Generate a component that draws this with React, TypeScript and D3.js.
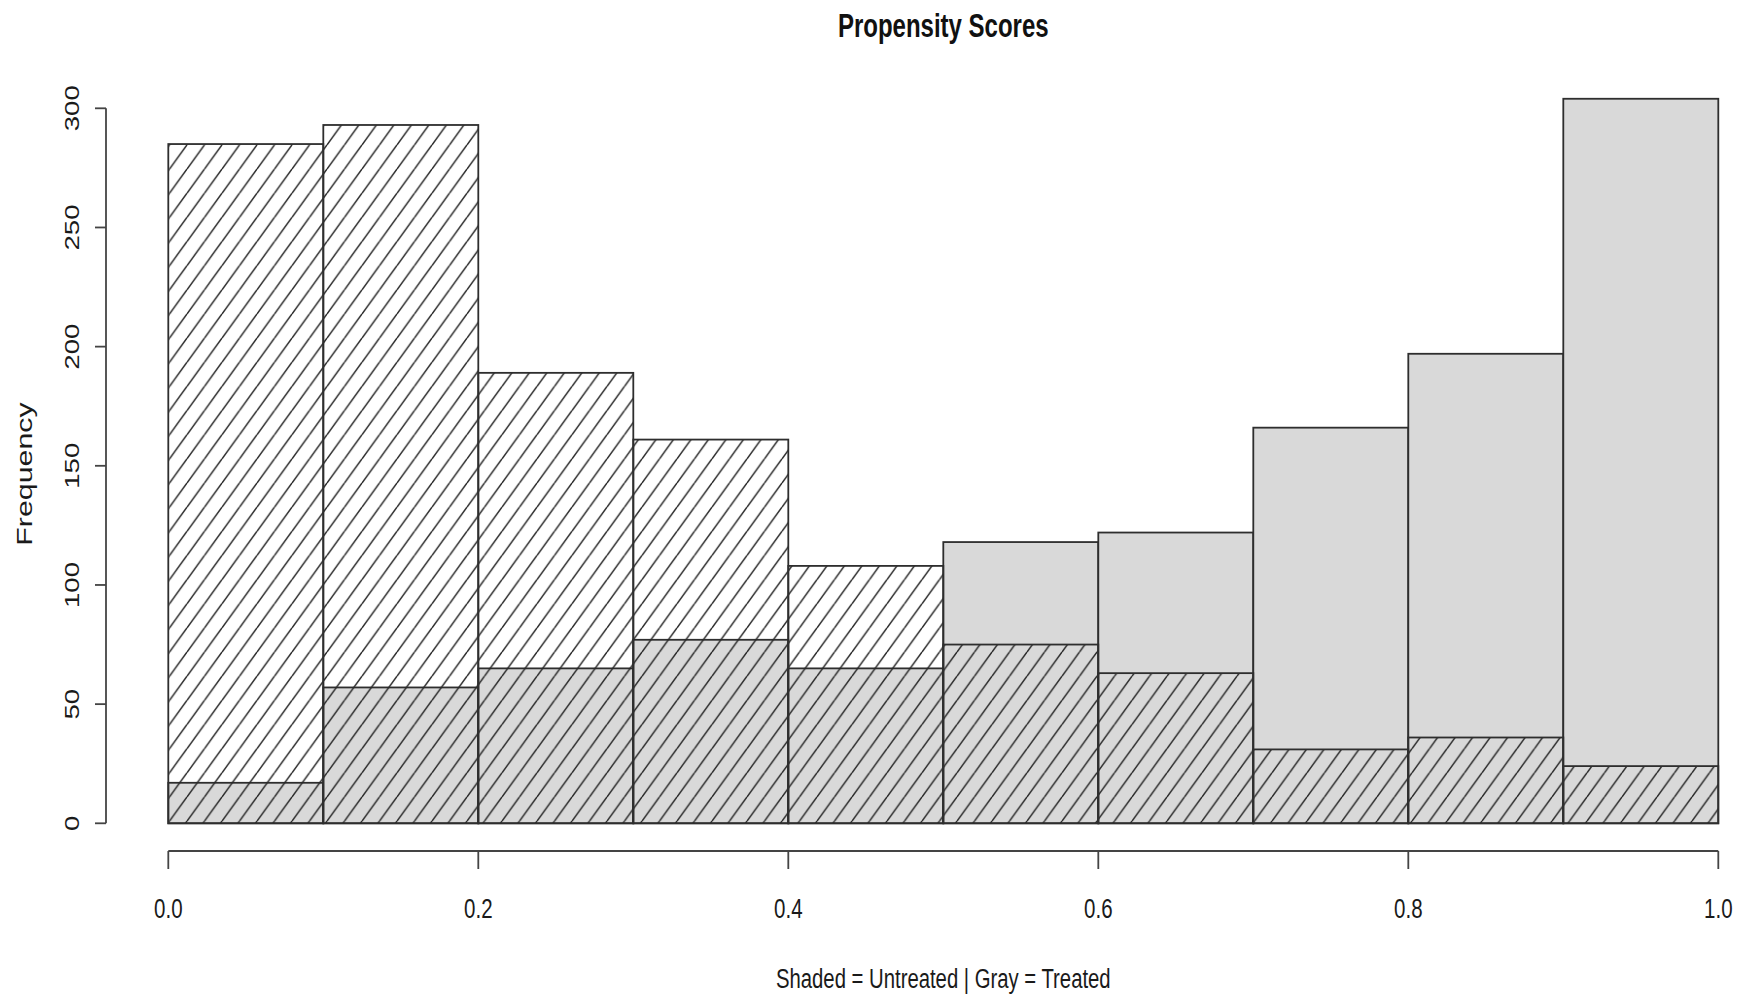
import { useEffect, useRef } from "react"
import * as d3 from "d3"

// bins of width 0.1 from 0.0 to 1.0
const binStarts = [0.0, 0.1, 0.2, 0.3, 0.4, 0.5, 0.6, 0.7, 0.8, 0.9]
const untreated = [285, 293, 189, 161, 108, 75, 63, 31, 36, 24]
const treated = [17, 57, 65, 77, 65, 118, 122, 166, 197, 304]
const yTicks = [0, 50, 100, 150, 200, 250, 300]
const xTicks = [0.0, 0.2, 0.4, 0.6, 0.8, 1.0]

const W = 1752
const H = 998
const STRETCH = 1.38 // picture is stretched vertically
const FONT = "'Liberation Sans', Arial, Helvetica, sans-serif"

export default function App() {
  const svgRef = useRef<SVGSVGElement>(null)

  useEffect(() => {
    if (!svgRef.current) return
    document.body.style.margin = "0"
    const svg = d3.select(svgRef.current)
    svg.selectAll("*").remove()

    const x = d3.scaleLinear().domain([0, 1]).range([168.3, 1718.3])
    const y = d3.scaleLinear().domain([0, 300]).range([823.3, 108.3])
    const bw = x(0.1) - x(0)

    // hatch pattern, 45 degree lines stretched vertically
    const pw = 17.5
    const ph = pw * STRETCH
    const defs = svg.append("defs")
    const pat = defs
      .append("pattern")
      .attr("id", "hatch")
      .attr("patternUnits", "userSpaceOnUse")
      .attr("x", 12)
      .attr("y", 0)
      .attr("width", pw)
      .attr("height", ph)
    pat
      .append("path")
      .attr("d", `M0,${ph} L${pw},0 M${-pw},${ph} L0,0 M${pw},${ph} L${2 * pw},0`)
      .attr("stroke", "#262626")
      .attr("stroke-width", 1.5)
      .attr("fill", "none")

    // treated: gray bars
    svg
      .append("g")
      .selectAll("rect")
      .data(treated)
      .enter()
      .append("rect")
      .attr("x", (d, i) => x(binStarts[i]))
      .attr("y", (d) => y(d))
      .attr("width", bw)
      .attr("height", (d) => y(0) - y(d))
      .attr("fill", "#d9d9d9")
      .attr("stroke", "#2e2e2e")
      .attr("stroke-width", 1.8)

    // untreated: hatched bars on top
    svg
      .append("g")
      .selectAll("rect")
      .data(untreated)
      .enter()
      .append("rect")
      .attr("x", (d, i) => x(binStarts[i]))
      .attr("y", (d) => y(d))
      .attr("width", bw)
      .attr("height", (d) => y(0) - y(d))
      .attr("fill", "url(#hatch)")
      .attr("stroke", "#2e2e2e")
      .attr("stroke-width", 1.8)

    // y axis
    const yAxis = svg.append("g").attr("stroke", "#444").attr("stroke-width", 1.8)
    yAxis
      .append("line")
      .attr("x1", 106)
      .attr("x2", 106)
      .attr("y1", y(0))
      .attr("y2", y(300))
    yAxis
      .selectAll(".tick")
      .data(yTicks)
      .enter()
      .append("line")
      .attr("x1", 95)
      .attr("x2", 106)
      .attr("y1", (d) => y(d))
      .attr("y2", (d) => y(d))

    svg
      .append("g")
      .selectAll("text")
      .data(yTicks)
      .enter()
      .append("text")
      .attr("transform", (d) => `translate(78.5,${y(d)}) rotate(-90) scale(${STRETCH},1)`)
      .attr("text-anchor", "middle")
      .attr("fill", "#1a1a1a")
      .style("font-family", FONT)
      .style("font-size", "20px")
      .text((d) => d)

    // x axis
    const xAxis = svg.append("g").attr("stroke", "#444").attr("stroke-width", 1.8)
    xAxis
      .append("line")
      .attr("x1", x(0))
      .attr("x2", x(1))
      .attr("y1", 851)
      .attr("y2", 851)
    xAxis
      .selectAll(".tick")
      .data(xTicks)
      .enter()
      .append("line")
      .attr("x1", (d) => x(d))
      .attr("x2", (d) => x(d))
      .attr("y1", 851)
      .attr("y2", 869)

    svg
      .append("g")
      .selectAll("text")
      .data(xTicks)
      .enter()
      .append("text")
      .attr("transform", (d) => `translate(${x(d)},918) scale(1,${STRETCH})`)
      .attr("text-anchor", "middle")
      .attr("fill", "#1a1a1a")
      .style("font-family", FONT)
      .style("font-size", "20.5px")
      .text((d) => d.toFixed(1))

    // title
    svg
      .append("text")
      .attr("transform", `translate(${(x(0) + x(1)) / 2},37) scale(1,${STRETCH})`)
      .attr("text-anchor", "middle")
      .attr("fill", "#111")
      .style("font-family", FONT)
      .style("font-weight", "bold")
      .style("font-size", "24px")
      .text("Propensity Scores")

    // x label
    svg
      .append("text")
      .attr("transform", `translate(${(x(0) + x(1)) / 2},988) scale(1,${STRETCH})`)
      .attr("text-anchor", "middle")
      .attr("fill", "#1a1a1a")
      .style("font-family", FONT)
      .style("font-size", "20.3px")
      .text("Shaded = Untreated | Gray = Treated")

    // y label
    svg
      .append("text")
      .attr("transform", `translate(32,474) rotate(-90) scale(${STRETCH},1)`)
      .attr("text-anchor", "middle")
      .attr("fill", "#1a1a1a")
      .style("font-family", FONT)
      .style("font-size", "22px")
      .text("Frequency")
  }, [])

  return (
    <svg ref={svgRef} width={W} height={H} style={{ display: "block", background: "white" }}></svg>
  )
}
